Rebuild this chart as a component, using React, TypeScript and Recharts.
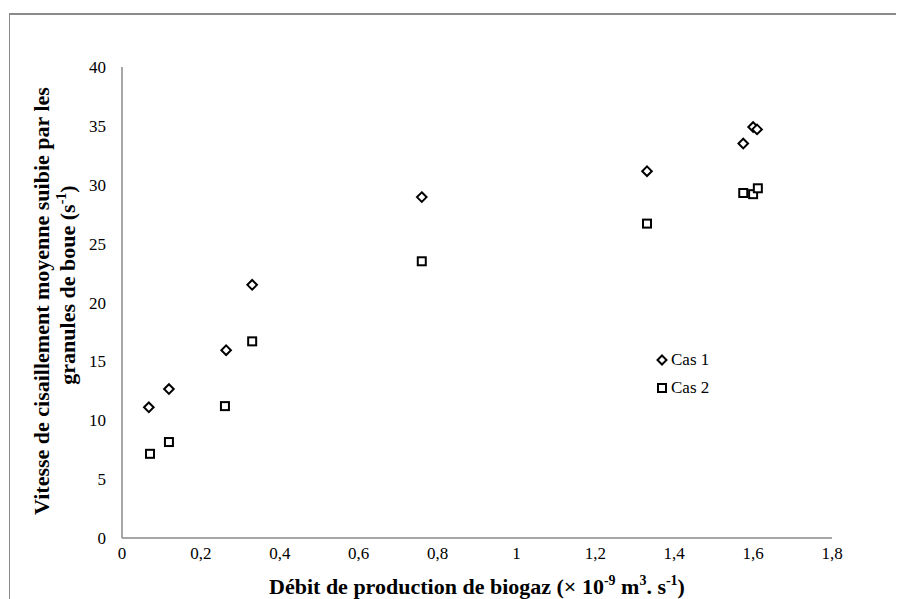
import React from 'react';
import { ScatterChart, Scatter, XAxis, YAxis, Legend, Label } from 'recharts';

const cas1X = [0.068, 0.119, 0.264, 0.33, 0.76, 1.331, 1.575, 1.6, 1.61];
const cas1Y = [11.1, 12.65, 15.95, 21.5, 28.95, 31.15, 33.5, 34.9, 34.7];
const cas2X = [0.071, 0.119, 0.261, 0.33, 0.76, 1.331, 1.575, 1.6, 1.612];
const cas2Y = [7.15, 8.15, 11.2, 16.7, 23.5, 26.7, 29.3, 29.2, 29.7];
const xTicks = [0, 0.2, 0.4, 0.6, 0.8, 1, 1.2, 1.4, 1.6, 1.8];
const yTicks = [0, 5, 10, 15, 20, 25, 30, 35, 40];
const seriesNames = ['Cas 1', 'Cas 2'];

const cas1 = cas1X.map((x, i) => ({ x, y: cas1Y[i] }));
const cas2 = cas2X.map((x, i) => ({ x, y: cas2Y[i] }));

const FONT = '"Liberation Serif", "Times New Roman", serif';

const Diamond = (props: any) => {
  const { cx, cy } = props;
  const r = 4.8;
  return (
    <path
      d={`M${cx},${cy - r} L${cx + r},${cy} L${cx},${cy + r} L${cx - r},${cy} Z`}
      fill="#fff"
      stroke="#000"
      strokeWidth={2}
    />
  );
};

const Square = (props: any) => {
  const { cx, cy } = props;
  const s = 8;
  return <rect x={cx - s / 2} y={cy - s / 2} width={s} height={s} fill="#fff" stroke="#000" strokeWidth={2} />;
};

const fmt = (v: number) => String(v).replace('.', ',');

const XTick = (props: any) => {
  const { x, y, payload } = props;
  return (
    <text x={x} y={y + 19} textAnchor="middle" fontFamily={FONT} fontSize={17} fill="#000">
      {fmt(payload.value)}
    </text>
  );
};

const YTick = (props: any) => {
  const { x, y, payload } = props;
  return (
    <text x={x - 14} y={y + 6} textAnchor="end" fontFamily={FONT} fontSize={17} fill="#000">
      {payload.value}
    </text>
  );
};

const LegendContent = () => (
  <div style={{ fontFamily: FONT, fontSize: 17, color: '#000', lineHeight: '28px' }}>
    <div style={{ display: 'flex', alignItems: 'center' }}>
      <svg width={14} height={14} style={{ marginRight: 2 }}>
        <path d="M7,2.5 L11.5,7 L7,11.5 L2.5,7 Z" fill="#fff" stroke="#000" strokeWidth={2} />
      </svg>
      <span>{seriesNames[0]}</span>
    </div>
    <div style={{ display: 'flex', alignItems: 'center' }}>
      <svg width={14} height={14} style={{ marginRight: 2 }}>
        <rect x={3} y={3} width={8} height={8} fill="#fff" stroke="#000" strokeWidth={2} />
      </svg>
      <span>{seriesNames[1]}</span>
    </div>
  </div>
);

const XLabel = (props: any) => {
  const vb = props.viewBox || {};
  const cx = vb.x + vb.width / 2;
  const y = vb.y + 56;
  return (
    <text x={cx} y={y} textAnchor="middle" fontFamily={FONT} fontSize={22} fontWeight="bold" fill="#000">
      Débit de production de biogaz (× 10
      <tspan fontSize={14} dy={-9}>-9</tspan>
      <tspan dy={9}> m</tspan>
      <tspan fontSize={14} dy={-9}>3</tspan>
      <tspan dy={9}>. s</tspan>
      <tspan fontSize={14} dy={-9}>-1</tspan>
      <tspan dy={9}>)</tspan>
    </text>
  );
};

const YLabel = () => {
  const x1 = 41;
  const y1 = 293;
  const x2 = 67;
  const y2 = 277;
  return (
    <g>
      <text
        x={x1}
        y={y1}
        textAnchor="middle"
        transform={`rotate(-90, ${x1}, ${y1})`}
        fontFamily={FONT}
        fontSize={22}
        fontWeight="bold"
        fill="#000"
      >
        Vitesse de cisaillement moyenne suibie par les
      </text>
      <text
        x={x2}
        y={y2}
        textAnchor="middle"
        transform={`rotate(-90, ${x2}, ${y2})`}
        fontFamily={FONT}
        fontSize={22}
        fontWeight="bold"
        fill="#000"
      >
        granules de boue (s
        <tspan fontSize={14} dy={-9}>-1</tspan>
        <tspan dy={9}>)</tspan>
      </text>
    </g>
  );
};

export default function App() {
  return (
    <div style={{ position: 'relative', width: 896, height: 591, fontFamily: FONT }}>
      <div
        style={{
          position: 'absolute',
          left: 1,
          top: 5,
          right: -10,
          bottom: -10,
          borderLeft: '1px solid #8a8a8a',
          borderTop: '2px solid #8a8a8a',
        }}
      />
      <ScatterChart width={896} height={591} margin={{ top: 59, right: 72, bottom: 31, left: 54 }}>
        <XAxis
          type="number"
          dataKey="x"
          domain={[0, 1.8]}
          ticks={xTicks}
          tickLine={false}
          tickSize={0}
          axisLine={{ stroke: '#8a8a8a', strokeWidth: 1.5 }}
          tick={XTick}
          height={30}
          interval={0}
        >
          <Label content={XLabel} />
        </XAxis>
        <YAxis
          type="number"
          dataKey="y"
          domain={[0, 40]}
          ticks={yTicks}
          tickLine={false}
          tickSize={0}
          axisLine={{ stroke: '#8a8a8a', strokeWidth: 1.5 }}
          tick={YTick}
          width={60}
          interval={0}
        >
          <Label content={YLabel} />
        </YAxis>
        <Legend
          layout="horizontal"
          align="center"
          verticalAlign="middle"
          content={LegendContent}
          wrapperStyle={{ left: 647, top: 338, width: 'auto' }}
        />
        <Scatter name={seriesNames[0]} data={cas1} shape={Diamond} isAnimationActive={false} />
        <Scatter name={seriesNames[1]} data={cas2} shape={Square} isAnimationActive={false} />
      </ScatterChart>
    </div>
  );
}
